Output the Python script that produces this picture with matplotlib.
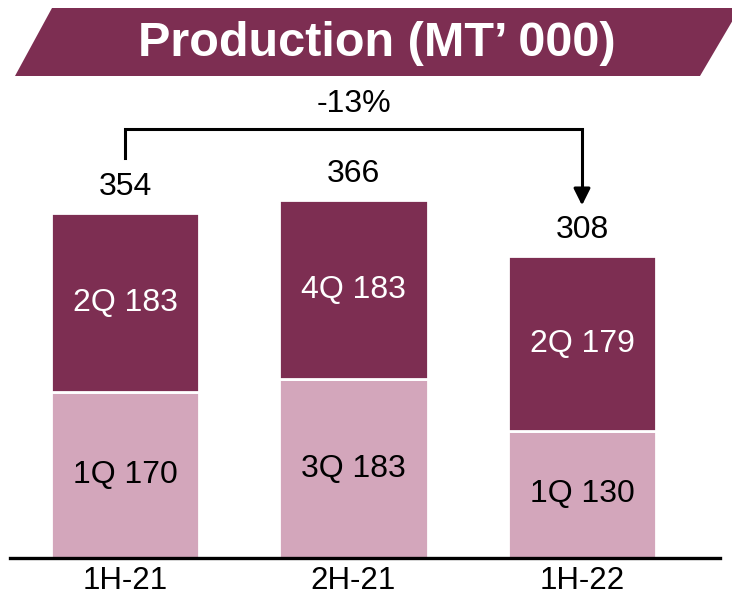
import matplotlib
matplotlib.use("Agg")
import matplotlib.pyplot as plt
from matplotlib.patches import Polygon

# Data
periods = ["1H-21", "2H-21", "1H-22"]
first_q = [170, 183, 130]
second_q = [183, 183, 179]
first_q_names = ["1Q", "3Q", "1Q"]
second_q_names = ["2Q", "4Q", "2Q"]
totals = [354, 366, 308]
change_label = "-13%"

DARK = "#7D2E52"
LIGHT = "#D3A6BB"

plt.rcParams["font.family"] = ["Liberation Sans", "DejaVu Sans"]

W, H = 732, 599
fig = plt.figure(figsize=(W / 100, H / 100), dpi=100)

# Axes placed so the baseline sits near the bottom and bars fill the width
base_px = 558
left_px, right_px = 10, 720
ax = fig.add_axes([left_px / W, (H - base_px) / H, (right_px - left_px) / W, base_px / H])
px_per_unit_x = 228.5
x0_px = 125
ax.set_xlim((left_px - x0_px) / px_per_unit_x, (right_px - x0_px) / px_per_unit_x)
px_per_unit_y = 0.977
ax.set_ylim(0, base_px / px_per_unit_y)

x = list(range(len(periods)))
width = 0.648
ax.bar(x, first_q, width, color=LIGHT, edgecolor="white", linewidth=2, zorder=2)
ax.bar(x, second_q, width, bottom=first_q, color=DARK, edgecolor="white", linewidth=2, zorder=2)

fs = 23
for i in x:
    ax.text(i, first_q[i] / 2, f"{first_q_names[i]} {first_q[i]}", ha="center", va="center",
            fontsize=fs, color="black")
    ax.text(i, first_q[i] + second_q[i] / 2, f"{second_q_names[i]} {second_q[i]}", ha="center",
            va="center", fontsize=fs, color="white")
    ax.annotate(str(totals[i]), xy=(i, first_q[i] + second_q[i]), xytext=(0, 19),
                textcoords="offset points", ha="center", va="center", fontsize=fs)

# Change bracket from first to last period
y_start = 409
y_top = 439
y_end = totals[2] + 53
ax.plot([0, 0, 2, 2], [y_start, y_top, y_top, y_end + 14], color="black", lw=2.2,
        solid_joinstyle="miter", zorder=3)
ax.annotate("", xy=(2, y_end), xytext=(2, y_end + 16),
            arrowprops=dict(arrowstyle="-|>,head_length=1.0,head_width=0.5", color="black",
                            lw=2.2, shrinkA=0, shrinkB=0))
ax.text(1, y_top + 26, change_label, ha="center", va="center", fontsize=fs)

# Axis styling
for s in ["top", "right", "left"]:
    ax.spines[s].set_visible(False)
ax.spines["bottom"].set_linewidth(2.4)
ax.spines["bottom"].set_zorder(4)
ax.set_yticks([])
ax.set_xticks(x)
ax.set_xticklabels(periods, fontsize=22.5)
ax.tick_params(axis="x", length=0, pad=6)

# Title banner
banner = Polygon([(15 / W, 1 - 76 / H), (52 / W, 1 - 8 / H), (740 / W, 1 - 8 / H), (700 / W, 1 - 76 / H)],
                 closed=True, transform=fig.transFigure, facecolor=DARK, edgecolor="none")
fig.patches.append(banner)
fig.text(377 / W, 1 - 43 / H, "Production (MT\u2019 000)", ha="center", va="center",
         fontsize=35, fontweight="bold", color="white")

fig.savefig("out.png", dpi=100)
